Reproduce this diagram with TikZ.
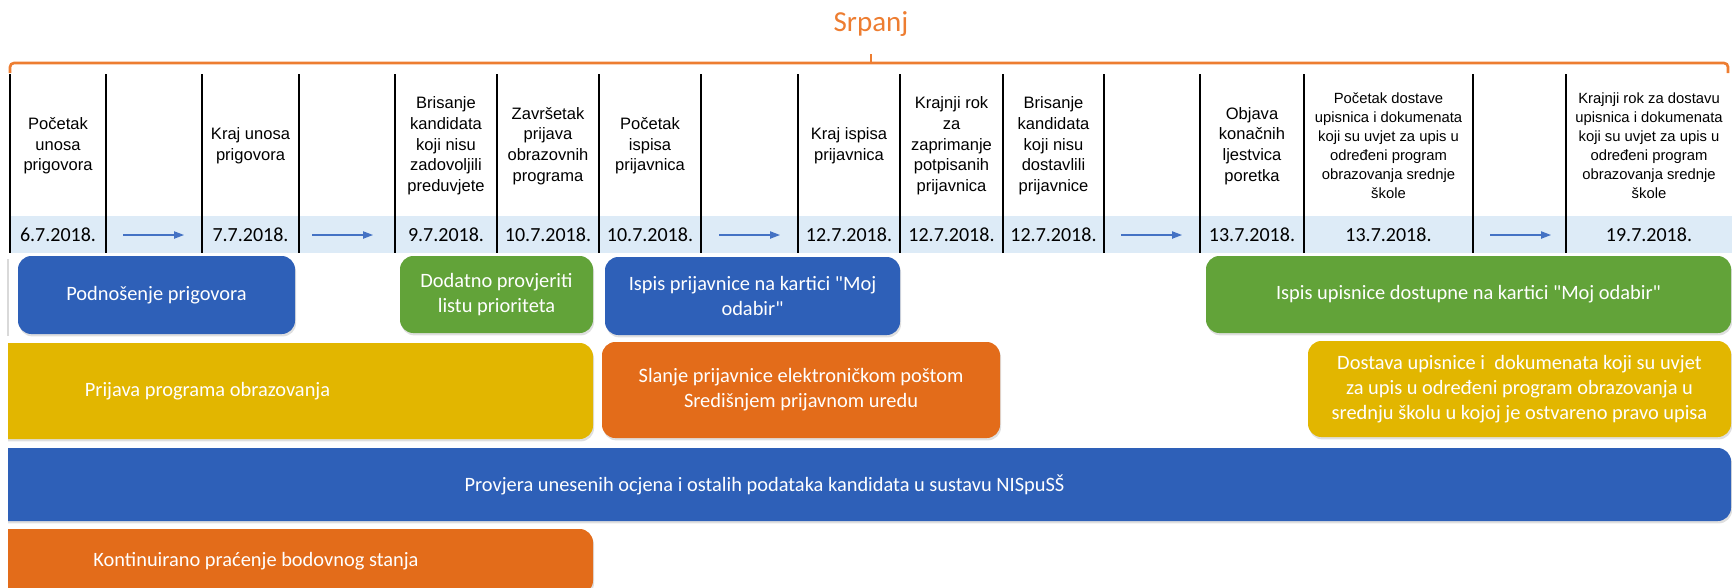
\documentclass[tikz,border=0pt]{standalone}
\usepackage{fontspec}
\setmainfont{Liberation Sans}
\newfontfamily\carl{Carlito}
\usetikzlibrary{arrows.meta,shadows,fit}
\definecolor{boxblue}{HTML}{2E60B8}
\definecolor{boxgreen}{HTML}{62A339}
\definecolor{boxyellow}{HTML}{E2B600}
\definecolor{boxorange}{HTML}{E36C1A}
\definecolor{daterow}{HTML}{DDEBF7}
\definecolor{bracecol}{HTML}{ED7D31}
\definecolor{arrowblue}{HTML}{4472C4}
\tikzset{
  colline/.style={line width=1.5pt, black},
  hdr/.style={font=\fontsize{12.4}{15.5}\selectfont, align=center, inner sep=0pt},
  hdrsmall/.style={font=\fontsize{11.1}{14.3}\selectfont, align=center, inner sep=0pt},
  datelbl/.style={font=\carl\fontsize{15}{18}\selectfont, inner sep=0pt},
  tlarrow/.style={arrowblue, line width=0.9pt, -{Triangle[length=7.5pt,width=5.5pt]}},
  bar/.style={rounded corners=10pt, inner sep=0pt, draw=none,
    drop shadow={shadow xshift=0.8pt, shadow yshift=-1.8pt, opacity=0.25}},
  bartext/.style={inner sep=0pt, font=\carl\fontsize{15.3}{18.6}\selectfont,
    text=white, align=center},
  bracket/.style={bracecol, line width=2pt},
}
\begin{document}
\begin{tikzpicture}[x=0.75pt,y=-0.75pt]
\useasboundingbox (0,0) rectangle (1732,587);

% month bracket
\node[font=\carl\fontsize{21.75}{26}\selectfont, text=bracecol, inner sep=0pt] (month) at (871,24) {Srpanj};
\draw[bracket, rounded corners=3pt] (10,73) -- (10,63) -- (1728,63) -- (1728,73);
\draw[bracket] (871,63) -- (871,54);

% date row
\fill[daterow] (9,216) rectangle (1732,253);

% column lines
\foreach \x in {10,106,202,299,395,497,599,701,798,900,1003,1104,1200,1304,1473,1566}
  \draw[colline] (\x,74) -- (\x,253);

% headers
\node[hdr] (h1) at (58,146) {Početak\\unosa\\prigovora};
\node[hdr] (h3) at (250.5,146) {Kraj unosa\\prigovora};
\node[hdr] (h5) at (446,146) {Brisanje\\kandidata\\koji nisu\\zadovoljili\\preduvjete};
\node[hdr] (h6) at (548,146) {Završetak\\prijava\\obrazovnih\\programa};
\node[hdr] (h7) at (650,146) {Početak\\ispisa\\prijavnica};
\node[hdr] (h9) at (849,146) {Kraj ispisa\\prijavnica};
\node[hdr] (h10) at (951.5,146) {Krajnji rok\\za\\zaprimanje\\potpisanih\\prijavnica};
\node[hdr] (h11) at (1053.5,146) {Brisanje\\kandidata\\koji nisu\\dostavlili\\prijavnice};
\node[hdr] (h13) at (1252,146) {Objava\\konačnih\\ljestvica\\poretka};
\node[hdrsmall] (h14) at (1388.5,146) {Početak dostave\\upisnica i dokumenata\\koji su uvjet za upis u\\određeni program\\obrazovanja srednje\\škole};
\node[hdrsmall] (h16) at (1649,146) {Krajnji rok za dostavu\\upisnica i dokumenata\\koji su uvjet za upis u\\određeni program\\obrazovanja srednje\\škole};

% dates
\node[datelbl] (d1) at (58,235) {6.7.2018.};
\node[datelbl] (d3) at (250.5,235) {7.7.2018.};
\node[datelbl] (d5) at (446,235) {9.7.2018.};
\node[datelbl] (d6) at (548,235) {10.7.2018.};
\node[datelbl] (d7) at (650,235) {10.7.2018.};
\node[datelbl] (d9) at (849,235) {12.7.2018.};
\node[datelbl] (d10) at (951.5,235) {12.7.2018.};
\node[datelbl] (d11) at (1053.5,235) {12.7.2018.};
\node[datelbl] (d13) at (1252,235) {13.7.2018.};
\node[datelbl] (d14) at (1388.5,235) {13.7.2018.};
\node[datelbl] (d16) at (1649,235) {19.7.2018.};

% arrows
\coordinate (a2s) at (123,235);  \coordinate (a2e) at (184,235);
\coordinate (a4s) at (312,235);  \coordinate (a4e) at (373,235);
\coordinate (a8s) at (719,235);  \coordinate (a8e) at (780,235);
\coordinate (a12s) at (1121,235); \coordinate (a12e) at (1182,235);
\coordinate (a15s) at (1490,235); \coordinate (a15e) at (1551,235);
\draw[tlarrow] (a2s) -- (a2e);
\draw[tlarrow] (a4s) -- (a4e);
\draw[tlarrow] (a8s) -- (a8e);
\draw[tlarrow] (a12s) -- (a12e);
\draw[tlarrow] (a15s) -- (a15e);

% faint edge at left of first row
\draw[black!15, line width=0.8pt] (8,259) -- (8,336);

% activity bars
\begin{scope}
\clip (8,0) rectangle (1732,600);
\node[bar, fill=boxblue, fit={(18,256) (295,334)}] (podn) {};
\node[bar, fill=boxgreen, fit={(400,256) (593,333)}] (dod) {};
\node[bar, fill=boxblue, fit={(605,257) (900,335)}] (ispisp) {};
\node[bar, fill=boxgreen, fit={(1206,256) (1731,333)}] (ispisu) {};
\node[bar, fill=boxyellow, fit={(-178,343) (593,439)}] (prij) {};
\node[bar, fill=boxorange, fit={(602,342) (1000,438)}] (slanje) {};
\node[bar, fill=boxyellow, fit={(1308,341) (1731,437)}] (dost) {};
\node[bar, fill=boxblue, fit={(-202,448) (1731,521)}] (provj) {};
\node[bar, fill=boxorange, fit={(-81,529) (593,594)}] (kont) {};
\end{scope}

\node[bartext] (podn-t) at (podn.center) {Podnošenje prigovora};
\node[bartext] (dod-t) at (dod.center) {Dodatno provjeriti\\listu prioriteta};
\node[bartext] (ispisp-t) at (ispisp.center) {Ispis prijavnice na kartici "Moj\\odabir"};
\node[bartext] (ispisu-t) at (ispisu.center) {Ispis upisnice dostupne na kartici "Moj odabir"};
\node[bartext] (prij-t) at (prij.center) {Prijava programa obrazovanja};
\node[bartext] (slanje-t) at (slanje.center) {Slanje prijavnice elektroničkom poštom\\Središnjem prijavnom uredu};
\node[bartext] (dost-t) at (dost.center) {Dostava upisnice i\ \ dokumenata koji su uvjet\\za upis u određeni program obrazovanja u\\srednju školu u kojoj je ostvareno pravo upisa};
\node[bartext] (provj-t) at (provj.center) {Provjera unesenih ocjena i ostalih podataka kandidata u sustavu NISpuSŠ};
\node[bartext] (kont-t) at (kont.center) {Kontinuirano praćenje bodovnog stanja};
\end{tikzpicture}
\end{document}
